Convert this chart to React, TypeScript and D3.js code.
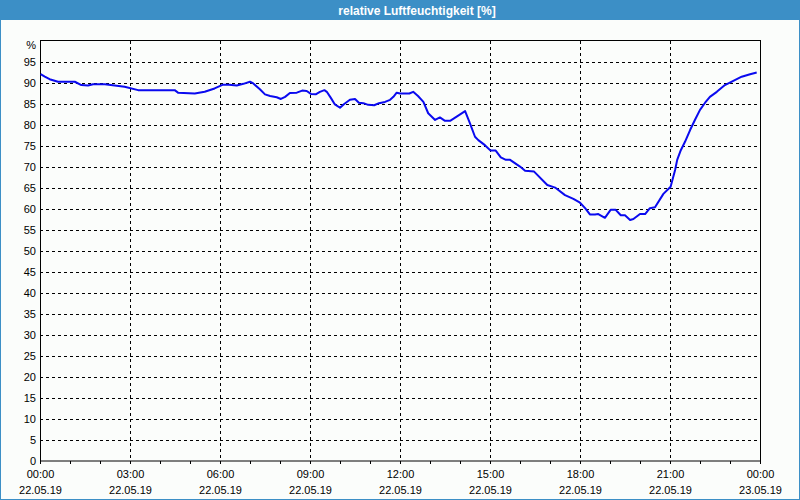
import React from "react";
import * as d3 from "d3";

const hours = [
  0.02, 0.16, 0.32, 0.6, 1.16, 1.38, 1.6, 1.77, 2.16, 2.82, 3.27, 4.49, 4.6, 5.16, 5.49, 5.82,
  6.1, 6.3, 6.56, 6.78, 7.0, 7.11, 7.33, 7.5, 7.67, 7.89, 8.03, 8.17, 8.33, 8.56, 8.74, 8.89,
  9.03, 9.19, 9.33, 9.48, 9.56, 9.7, 9.83, 10.0, 10.14, 10.33, 10.5, 10.63, 10.78, 10.94, 11.14,
  11.3, 11.5, 11.67, 11.78, 11.89, 12.0, 12.31, 12.44, 12.6, 12.78, 12.94, 13.0, 13.17, 13.33,
  13.5, 13.67, 13.89, 14.17, 14.31, 14.5, 14.61, 14.83, 15.02, 15.19, 15.36, 15.53, 15.67, 16.0,
  16.17, 16.47, 16.91, 17.17, 17.5, 17.78, 18.0, 18.17, 18.33, 18.5, 18.61, 18.83, 19.02, 19.19,
  19.36, 19.5, 19.67, 19.78, 20.0, 20.17, 20.33, 20.5, 20.78, 21.02, 21.17, 21.24, 21.36, 21.5,
  21.67, 21.83, 22.0, 22.17, 22.33, 22.56, 22.83, 23.11, 23.39, 23.67, 23.89,
];

const humidity = [
  92.1, 91.5, 90.9, 90.3, 90.3, 89.5, 89.4, 89.7, 89.7, 89.1, 88.3, 88.3, 87.7, 87.5, 87.9, 88.7,
  89.6, 89.6, 89.4, 89.8, 90.3, 89.9, 88.5, 87.3, 86.9, 86.6, 86.2, 86.7, 87.6, 87.7, 88.2, 88.1,
  87.4, 87.3, 87.9, 88.3, 87.9, 86.4, 84.9, 84.1, 85.0, 86.0, 86.2, 85.3, 85.2, 84.8, 84.7,
  85.2, 85.5, 86.0, 86.7, 87.7, 87.5, 87.5, 87.9, 86.9, 85.5, 82.8, 82.4, 81.2, 81.8,
  81.0, 81.0, 82.0, 83.3, 80.8, 77.2, 76.4, 75.2, 73.9, 73.9, 72.3, 71.7, 71.7, 70.1,
  69.1, 68.9, 65.7, 65.1, 63.3, 62.4, 61.5, 60.2, 58.7, 58.7, 58.8, 57.9, 59.8, 59.8,
  58.5, 58.5, 57.4, 57.6, 58.8, 58.8, 60.2, 60.4, 63.6, 65.3, 69.3, 71.7, 74.0, 76.0,
  78.8, 81.2, 83.6, 85.3, 86.7, 87.9, 89.5, 90.5, 91.5, 92.1, 92.5,
];

const majorTickHours = [0, 3, 6, 9, 12, 15, 18, 21, 24];
const timeLabels = ["00:00", "03:00", "06:00", "09:00", "12:00", "15:00", "18:00", "21:00", "00:00"];
const dateLabels = ["22.05.19", "22.05.19", "22.05.19", "22.05.19", "22.05.19", "22.05.19", "22.05.19", "22.05.19", "23.05.19"];
const yTicks = [0, 5, 10, 15, 20, 25, 30, 35, 40, 45, 50, 55, 60, 65, 70, 75, 80, 85, 90, 95];
const title = "relative Luftfeuchtigkeit [%]";
const unitLabel = "%";

export default function App() {
  const W = 800;
  const H = 500;
  const left = 40;
  const right = 760;
  const top = 41;
  const bottom = 461;
  const x = d3.scaleLinear().domain([0, 24]).range([left, right]);
  const y = d3.scaleLinear().domain([0, 100]).range([bottom, top]);
  const line = d3
    .line<number>()
    .x((_, i) => x(hours[i]))
    .y((d) => y(d));
  const hourTicks = d3.range(0, 25);
  const font = "'Liberation Sans', Arial, sans-serif";
  const blue = "#3c8fc6";

  return (
    <svg
      width={W}
      height={H}
      style={{ position: "fixed", left: 0, top: 0, display: "block" }}
      fontFamily={font}
    >
      <rect x={0} y={0} width={W} height={H} fill="#fbfdfb" />
      <rect x={0.5} y={0.5} width={W - 1} height={H - 1} fill="none" stroke={blue} />
      <rect x={0} y={0} width={W} height={20} fill={blue} />
      <text x={417} y={14.5} fill="#fff" fontSize={12} fontWeight="bold" textAnchor="middle">
        {title}
      </text>

      {/* horizontal grid */}
      {yTicks.filter((t) => t > 0).map((t) => (
        <line
          key={"h" + t}
          x1={left}
          x2={right}
          y1={Math.round(y(t)) + 0.5}
          y2={Math.round(y(t)) + 0.5}
          stroke="#000"
          strokeDasharray="3,3"
        />
      ))}
      {/* vertical grid */}
      {majorTickHours.filter((h) => h > 0 && h < 24).map((h) => (
        <line
          key={"v" + h}
          x1={Math.round(x(h)) + 0.5}
          x2={Math.round(x(h)) + 0.5}
          y1={top}
          y2={bottom}
          stroke="#000"
          strokeDasharray="3,3"
        />
      ))}

      {/* frame */}
      <rect x={left + 0.5} y={top - 0.5} width={right - left} height={bottom - top + 0.5} fill="none" stroke="#000" />

      {/* x ticks */}
      {hourTicks.map((h) => (
        <line
          key={"t" + h}
          x1={Math.round(x(h)) + 0.5}
          x2={Math.round(x(h)) + 0.5}
          y1={bottom}
          y2={bottom + 3}
          stroke="#000"
        />
      ))}

      {/* y labels */}
      {yTicks.map((t) => (
        <text key={"yl" + t} x={36} y={y(t) + 4} fontSize={11} textAnchor="end" fill="#000">
          {t}
        </text>
      ))}
      <text x={36} y={49} fontSize={11} textAnchor="end" fill="#000">
        {unitLabel}
      </text>

      {/* x labels */}
      {majorTickHours.map((h, i) => (
        <g key={"xl" + i}>
          <text x={x(h) + 0.5} y={478} fontSize={11} textAnchor="middle" fill="#000">
            {timeLabels[i]}
          </text>
          <text x={x(h) + 0.5} y={494} fontSize={11} textAnchor="middle" fill="#000">
            {dateLabels[i]}
          </text>
        </g>
      ))}

      <path d={line(humidity) || ""} fill="none" stroke="#0a0aef" strokeWidth={2} strokeLinejoin="round" />
    </svg>
  );
}
